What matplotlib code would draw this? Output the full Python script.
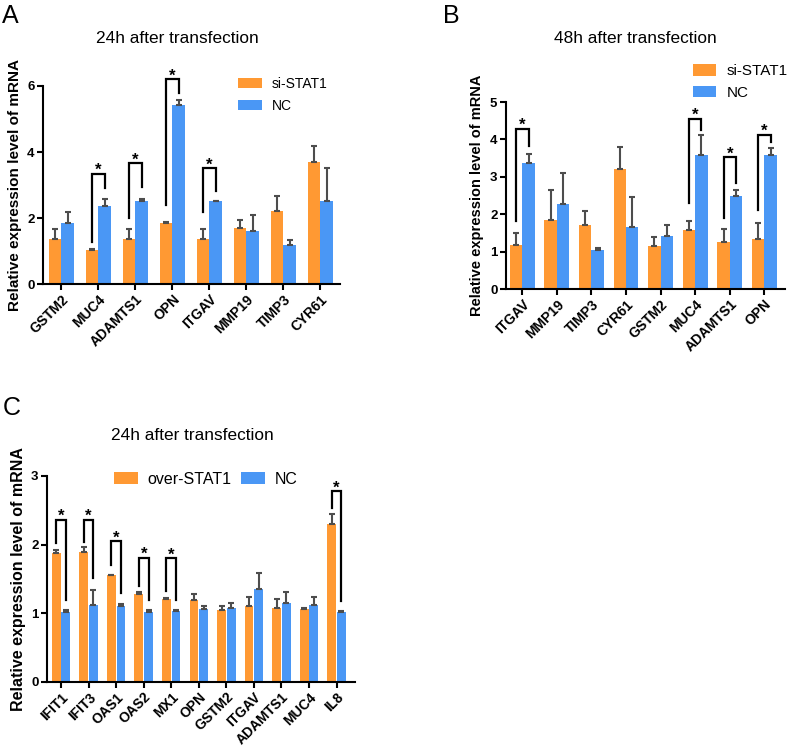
import numpy as np
import matplotlib
matplotlib.use("Agg")
import matplotlib.pyplot as plt

plt.rcParams['font.family'] = ['Liberation Sans', 'DejaVu Sans']

ORANGE = "#FF9933"
BLUE = "#4A97F5"
ERR = "#4d4d4d"

# panel A: 24h, si-STAT1 vs NC
genes_a = ['GSTM2', 'MUC4', 'ADAMTS1', 'OPN', 'ITGAV', 'MMP19', 'TIMP3', 'CYR61']
si_a = [1.36, 1.03, 1.36, 1.86, 1.36, 1.69, 2.20, 3.69]
si_a_err = [0.31, 0.02, 0.31, 0.03, 0.31, 0.24, 0.47, 0.49]
nc_a = [1.86, 2.36, 2.52, 5.43, 2.51, 1.61, 1.19, 2.52]
nc_a_err = [0.32, 0.23, 0.07, 0.16, 0.02, 0.48, 0.15, 0.99]
# (gene index, left leg bottom, right leg bottom, bracket top)
brackets_a = [(1, 1.26, 2.90, 3.34), (2, 2.00, 2.93, 3.66),
              (3, 2.38, 5.80, 6.20), (4, 2.17, 2.83, 3.51)]

# panel B: 48h, si-STAT1 vs NC
genes_b = ['ITGAV', 'MMP19', 'TIMP3', 'CYR61', 'GSTM2', 'MUC4', 'ADAMTS1', 'OPN']
si_b = [1.19, 1.85, 1.70, 3.22, 1.16, 1.59, 1.25, 1.34]
si_b_err = [0.31, 0.79, 0.39, 0.58, 0.22, 0.24, 0.36, 0.43]
nc_b = [3.38, 2.28, 1.04, 1.66, 1.41, 3.59, 2.49, 3.57]
nc_b_err = [0.24, 0.83, 0.06, 0.80, 0.30, 0.52, 0.16, 0.20]
brackets_b = [(0, 1.82, 3.82, 4.29), (5, 2.31, 4.24, 4.55),
              (6, 1.91, 2.84, 3.52), (7, 2.12, 3.93, 4.13)]

# panel C: 24h, over-STAT1 vs NC
genes_c = ['IFIT1', 'IFIT3', 'OAS1', 'OAS2', 'MX1', 'OPN', 'GSTM2', 'ITGAV',
           'ADAMTS1', 'MUC4', 'IL8']
over_c = [1.88, 1.89, 1.55, 1.28, 1.20, 1.19, 1.05, 1.10, 1.08, 1.06, 2.30]
over_c_err = [0.04, 0.07, 0.01, 0.03, 0.02, 0.09, 0.06, 0.14, 0.12, 0.02, 0.14]
nc_c = [1.01, 1.12, 1.11, 1.01, 1.03, 1.06, 1.07, 1.35, 1.15, 1.12, 1.01]
nc_c_err = [0.03, 0.21, 0.03, 0.03, 0.02, 0.05, 0.08, 0.24, 0.16, 0.12, 0.02]
brackets_c = [(0, 2.02, 1.19, 2.36), (1, 2.03, 1.51, 2.36), (2, 1.70, 1.29, 2.05),
              (3, 1.40, 1.19, 1.81), (4, 1.32, 1.19, 1.80), (10, 2.53, 1.18, 2.78)]


def draw_panel(ax, genes, s1, e1, s2, e2, labels, brackets, ylim, yticks,
               xlim, width, off, ylabel_size):
    x = np.arange(len(genes))
    kw = dict(ecolor=ERR, capsize=2.2, error_kw=dict(elinewidth=1.5, capthick=1.5))
    ax.bar(x - off, s1, width, color=ORANGE, label=labels[0],
           yerr=[np.zeros(len(e1)), e1], **kw)
    ax.bar(x + off, s2, width, color=BLUE, label=labels[1],
           yerr=[np.zeros(len(e2)), e2], **kw)
    for i, lb, rb, top in brackets:
        ax.plot([i - off, i - off, i + off, i + off], [lb, top, top, rb],
                color='black', lw=1.6, clip_on=False, solid_joinstyle='miter')
        ax.annotate('*', (i, top), xytext=(0, -1), textcoords='offset points',
                    ha='center', va='baseline', fontsize=12, fontweight='bold',
                    annotation_clip=False)
    ax.set_xlim(*xlim)
    ax.set_ylim(*ylim)
    ax.set_yticks(yticks)
    ax.set_xticks(x)
    ax.set_xticklabels(genes, rotation=45, ha='right', rotation_mode='anchor',
                       fontsize=10, fontweight='bold')
    for t in ax.get_yticklabels():
        t.set_fontweight('bold')
        t.set_fontsize(9.5)
    ax.spines['top'].set_visible(False)
    ax.spines['right'].set_visible(False)
    ax.spines['left'].set_linewidth(1.5)
    ax.spines['bottom'].set_linewidth(1.5)
    ax.tick_params(direction='out', length=4, width=1.5, pad=2)
    ax.set_ylabel('Relative expression level of mRNA', fontsize=ylabel_size,
                  fontweight='bold', labelpad=4)


fig = plt.figure(figsize=(7.87, 7.55), dpi=100)

ax_a = fig.add_axes([0.0546, 0.6238, 0.3774, 0.2623])
draw_panel(ax_a, genes_a, si_a, si_a_err, nc_a, nc_a_err, ['si-STAT1', 'NC'],
           brackets_a, (0, 6), [0, 2, 4, 6], (-0.5, 7.53), 0.34, 0.17, 11)
ax_a.legend(loc='upper left', bbox_to_anchor=(0.615, 1.11), frameon=False,
            fontsize=10, handlelength=1.7, handleheight=0.7, labelspacing=0.6,
            handletextpad=0.7)

ax_b = fig.add_axes([0.6426, 0.6172, 0.3549, 0.2477])
draw_panel(ax_b, genes_b, si_b, si_b_err, nc_b, nc_b_err, ['si-STAT1', 'NC'],
           brackets_b, (0, 5), [0, 1, 2, 3, 4, 5], (-0.48, 7.6), 0.36, 0.18, 10.5)
ax_b.legend(loc='upper left', bbox_to_anchor=(0.62, 1.275), frameon=False,
            fontsize=11, handlelength=1.5, handleheight=0.75, labelspacing=0.5,
            handletextpad=0.7)

ax_c = fig.add_axes([0.0597, 0.0971, 0.3914, 0.2725])
draw_panel(ax_c, genes_c, over_c, over_c_err, nc_c, nc_c_err, ['over-STAT1', 'NC'],
           brackets_c, (0, 3), [0, 1, 2, 3], (-0.51, 10.67), 0.32, 0.175, 11.5)
ax_c.legend(loc='upper left', bbox_to_anchor=(0.17, 1.09), frameon=False, ncol=2,
            fontsize=11.5, handlelength=1.5, handleheight=0.8, columnspacing=0.6,
            handletextpad=0.6)

fig.text(177 / 787, 1 - 43 / 755, '24h after transfection', ha='center',
         va='baseline', fontsize=12.4)
fig.text(635 / 787, 1 - 43 / 755, '48h after transfection', ha='center',
         va='baseline', fontsize=12.4)
fig.text(192 / 787, 1 - 440 / 755, '24h after transfection', ha='center',
         va='baseline', fontsize=12.4)

fig.text(2 / 787, 1 - 23 / 755, 'A', fontsize=18, va='baseline')
fig.text(443 / 787, 1 - 23 / 755, 'B', fontsize=18, va='baseline')
fig.text(3 / 787, 1 - 415 / 755, 'C', fontsize=18, va='baseline')

fig.savefig('out.png', dpi=100)
